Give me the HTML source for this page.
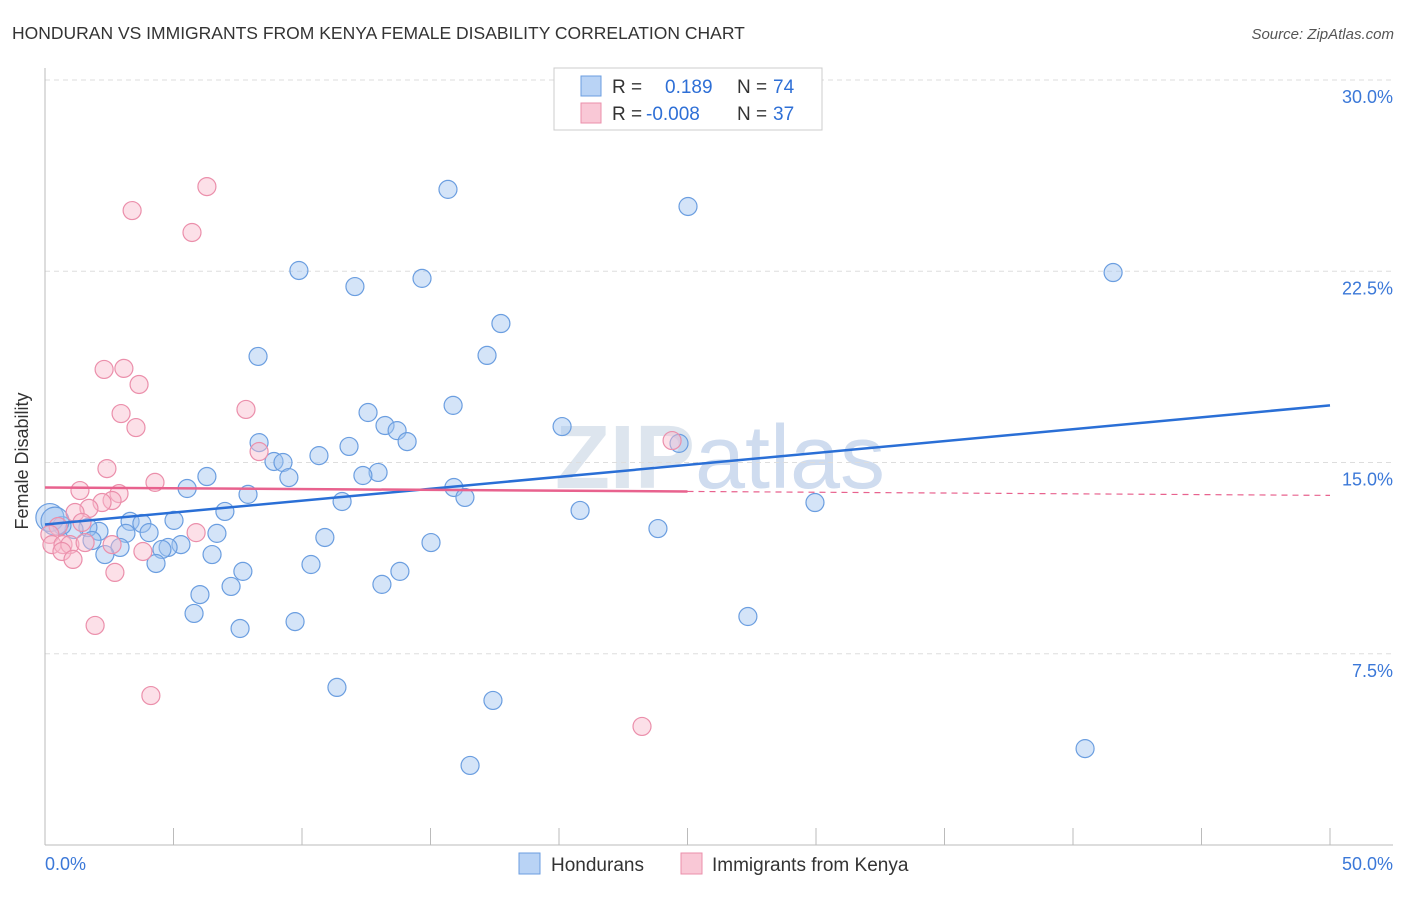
<!DOCTYPE html>
<html><head><meta charset="utf-8"><style>
body{margin:0;background:#fff;font-family:"Liberation Sans",sans-serif}
svg text{font-family:"Liberation Sans",sans-serif}
</style></head><body>
<svg id="c" width="1406" height="892">
<text x="12" y="39" font-size="17.5" fill="#333">HONDURAN VS IMMIGRANTS FROM KENYA FEMALE DISABILITY CORRELATION CHART</text>
<text x="1394" y="39" font-size="15" fill="#555" font-style="italic" text-anchor="end">Source: ZipAtlas.com</text>
<text x="720" y="488" font-size="90" fill="#dde5ee" text-anchor="middle" font-weight="bold">ZIP<tspan font-weight="normal" fill="#cfdcef">atlas</tspan></text>
<g id="grid"></g><g id="axes"></g><g id="pts"></g><g id="trend"></g>
<text x="22" y="455" font-size="18" fill="#333" transform="rotate(-90 28 455)" text-anchor="middle">Female Disability</text>
<g>
<rect x="554" y="68" width="268" height="62" fill="#fff" stroke="#ccc"/>
<rect x="581" y="76" width="20" height="20" fill="#b9d3f5" stroke="#6b9ee0"/>
<rect x="581" y="103" width="20" height="20" fill="#f9c8d6" stroke="#eb8fab"/>
<text x="612" y="93" font-size="19" fill="#333">R = </text><text x="665" y="93" font-size="19" fill="#2e6fd6">0.189</text>
<text x="737" y="93" font-size="19" fill="#333">N = </text><text x="773" y="93" font-size="19" fill="#2e6fd6">74</text>
<text x="612" y="120" font-size="19" fill="#333">R = </text><text x="646" y="120" font-size="19" fill="#2e6fd6">-0.008</text>
<text x="737" y="120" font-size="19" fill="#333">N = </text><text x="773" y="120" font-size="19" fill="#2e6fd6">37</text>
</g>
<g>
<rect x="519" y="853" width="21" height="21" fill="#b9d3f5" stroke="#6b9ee0"/>
<text x="551" y="871" font-size="19" fill="#333">Hondurans</text>
<rect x="681" y="853" width="21" height="21" fill="#f9c8d6" stroke="#eb8fab"/>
<text x="712" y="871" font-size="19" fill="#333">Immigrants from Kenya</text>
</g>
</svg>
<script>
const yTicks=[7.5,15,22.5,30];
const xTickLabels=["0.0%","50.0%"];
const blueX=[15.68,25.02,9.88,14.67,12.06,41.56,17.74,8.29,17.2,15.88,12.57,13.23,13.7,14.09,11.83,8.33,20.12,24.67,8.91,9.26,10.66,12.96,12.37,6.3,9.49,5.53,7.9,15.91,16.34,11.56,29.96,20.82,7.0,5.02,3.31,3.77,23.85,6.69,4.05,3.15,2.1,1.67,1.13,0.66,0.19,0.39,1.83,2.92,2.33,10.89,15.02,5.29,4.79,4.55,6.5,4.32,7.7,10.35,13.81,13.11,7.24,6.03,5.8,7.59,9.73,27.35,11.36,17.43,16.54,40.47];
const blueY=[25.71,25.04,22.53,22.22,21.9,22.45,20.45,19.16,19.2,17.24,16.96,16.45,16.25,15.82,15.63,15.78,16.41,15.75,15.04,15.0,15.27,14.61,14.49,14.45,14.41,13.98,13.75,14.02,13.63,13.47,13.43,13.12,13.08,12.73,12.69,12.61,12.41,12.22,12.25,12.22,12.3,12.45,12.37,12.53,12.84,12.7,11.94,11.67,11.39,12.06,11.86,11.78,11.67,11.59,11.39,11.04,10.73,11.0,10.73,10.22,10.14,9.82,9.08,8.49,8.76,8.96,6.18,5.67,3.12,3.78];
const pinkX=[6.3,3.39,5.72,2.3,3.07,3.66,2.96,7.82,3.54,8.33,24.4,2.41,4.28,1.36,2.88,2.61,2.22,1.71,1.17,1.44,0.51,5.88,0.19,0.27,0.7,0.97,1.56,2.61,3.81,0.66,1.09,2.72,1.95,4.12,23.23];
const pinkY=[25.82,24.88,24.02,18.65,18.69,18.06,16.92,17.08,16.37,15.43,15.86,14.76,14.22,13.9,13.78,13.51,13.43,13.2,13.04,12.65,12.49,12.25,12.18,11.78,11.78,11.78,11.86,11.78,11.51,11.51,11.2,10.69,8.61,5.86,4.65];
const blueTrend=[12.57,17.24];
const pinkTrend=[14.02,13.71];
const pinkSolidEnd=25;
const X=v=>45+v*25.7, Y=v=>845-v*25.5;
const NS="http://www.w3.org/2000/svg";
function mk(t,a,p){const e=document.createElementNS(NS,t);for(const k in a)e.setAttribute(k,a[k]);document.getElementById(p).appendChild(e);return e;}
yTicks.forEach(t=>{
 const l=mk('line',{x1:45,x2:1393,y1:Y(t),y2:Y(t),stroke:'#ddd','stroke-dasharray':'5,4'},'grid');
 
 
 const tx=mk('text',{x:1393,y:Y(t)+23,'font-size':18,fill:'#3b78d8','text-anchor':'end'},'grid');
 tx.textContent=t.toFixed(1)+'%';
 
 
});
const ax=mk('line',{x1:45,x2:45,y1:68,y2:845,stroke:'#bbb'},'axes');


const bx=mk('line',{x1:45,x2:1393,y1:845,y2:845,stroke:'#bbb'},'axes');


for(let i=1;i<=10;i++){const t=mk('line',{x1:X(i*5),x2:X(i*5),y1:828,y2:845,stroke:'#bbb'},'axes');
 
 }
xTickLabels.forEach((s,i)=>{const t=mk('text',{x:i?1393:45,y:870,'font-size':18,fill:'#3b78d8','text-anchor':i?'end':'start'},'axes');t.textContent=s;
 
 });
blueX.forEach((x,i)=>{const c=mk('circle',{cx:X(x),cy:Y(blueY[i]),r:x<0.5?14:9,fill:'rgba(160,196,240,0.45)',stroke:'#6b9ee0','stroke-width':1.2},'pts');
 
 });
pinkX.forEach((x,i)=>{const c=mk('circle',{cx:X(x),cy:Y(pinkY[i]),r:9,fill:'rgba(248,186,204,0.45)',stroke:'#eb8fab','stroke-width':1.2},'pts');
 
 });
const bl=mk('line',{x1:X(0),y1:Y(blueTrend[0]),x2:X(50),y2:Y(blueTrend[1]),stroke:'#2a6fd6','stroke-width':2.5},'trend');


const pm=pinkTrend[0]+(pinkTrend[1]-pinkTrend[0])*pinkSolidEnd/50;
const pl=mk('line',{x1:X(0),y1:Y(pinkTrend[0]),x2:X(pinkSolidEnd),y2:Y(pm),stroke:'#e8628e','stroke-width':2.5},'trend');


const pd=mk('line',{x1:X(pinkSolidEnd),y1:Y(pm),x2:X(50),y2:Y(pinkTrend[1]),stroke:'#e8628e','stroke-width':1.2,'stroke-dasharray':'6,5'},'trend');


</script>
</body></html>
